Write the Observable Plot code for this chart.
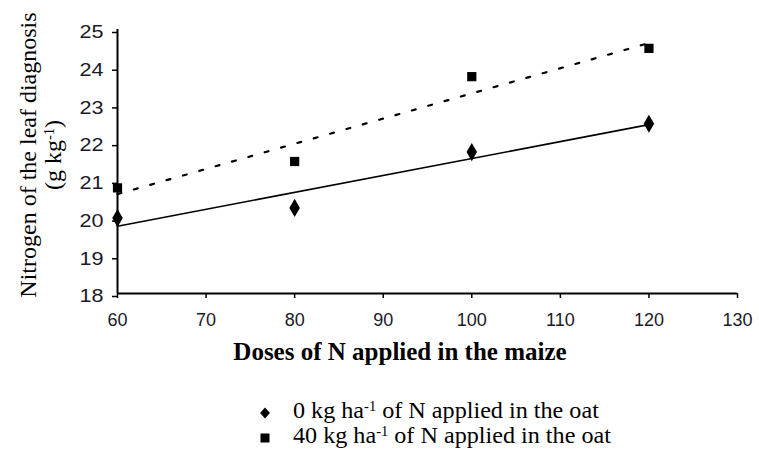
<!DOCTYPE html>
<html>
<head>
<meta charset="utf-8">
<script src="https://cdn.jsdelivr.net/npm/d3@7"></script>
<script src="https://cdn.jsdelivr.net/npm/@observablehq/plot@0.6"></script>
<style>
  html, body { margin: 0; padding: 0; background: #fff; }
  #wrap { position: relative; width: 759px; height: 449px; overflow: hidden; }
  #wrap svg { display: block; }
  .serif { font-family: "Liberation Serif", "Times New Roman", serif; color: #000; position: absolute; white-space: nowrap; }
  .sup { position: relative; top: -0.5em; font-size: 0.6em; }
  #ylab { left: 42px; top: 155px; font-size: 24px; transform: translate(-50%, -50%) rotate(-90deg); text-align: center; line-height: 25px; }
  #xlab { left: 400px; top: 338px; font-size: 25px; font-weight: bold; line-height: 28px; transform: translateX(-50%); }
  .leg { left: 258px; font-size: 23px; line-height: 24px; display: flex; align-items: center; }
  .leg .txt { display: inline-block; transform: scaleX(1.05); transform-origin: left center; }
  .leg svg { margin-right: 21px; }
</style>
</head>
<body>
<div id="wrap"></div>
<script>
const doses = [60, 80, 100, 120];
const n0 = [20.0, 20.27, 21.75, 22.5];
const n40 = [20.8, 21.5, 23.75, 24.5];
const xTicks = [60, 70, 80, 90, 100, 110, 120, 130];
const yTicks = [18, 19, 20, 21, 22, 23, 24, 25];
const seriesNames = ["0 kg ha-1 of N applied in the oat", "40 kg ha-1 of N applied in the oat"];

const d0 = doses.map((x, i) => ({x, y: n0[i]}));
const d40 = doses.map((x, i) => ({x, y: n40[i]}));

const tickFont = {fontFamily: "Liberation Sans, Arial, sans-serif", fontSize: 18};

const chart = Plot.plot({
  width: 759,
  height: 449,
  marginLeft: 117,
  marginRight: 22,
  marginTop: 29,
  marginBottom: 156,
  style: {background: "#fff", color: "#111", overflow: "visible"},
  x: {domain: [60, 130], ticks: xTicks, label: null},
  y: {domain: [18, 25], ticks: yTicks, label: null},
  marks: [
    Plot.axisY({ticks: yTicks, tickSize: 5, tickPadding: 9, tickFormat: d3.format("d"), label: null, ...tickFont, fill: "#1a1a2a", stroke: "#000", strokeWidth: 1.5, dy: 3}),
    Plot.axisX({ticks: xTicks, tickSize: 5, tickPadding: 15, tickFormat: d3.format("d"), label: null, ...tickFont, fill: "#1a1a2a", stroke: "#000", strokeWidth: 1.5}),
    Plot.ruleX([60], {stroke: "#000", strokeWidth: 2}),
    Plot.ruleY([18], {stroke: "#000", strokeWidth: 2}),
    Plot.linearRegressionY(d0, {x: "x", y: "y", ci: 0, stroke: "#000", strokeWidth: 1.6}),
    Plot.linearRegressionY(d40, {x: "x", y: "y", ci: 0, stroke: "#000", strokeWidth: 2.2, strokeDasharray: "4,13"}),
    Plot.dot(d0, {x: "x", y: "y", symbol: "diamond", r: 5.5, fill: "#000", stroke: "none"}),
    Plot.dot(d40, {x: "x", y: "y", symbol: "square", r: 5.2, fill: "#000", stroke: "none"})
  ]
});

// widen y tick labels horizontally to match the stretched look of the reference
chart.querySelectorAll('g[aria-label="y-axis tick label"] text').forEach(t => {
  const tr = t.getAttribute("transform");
  if (tr) {
    t.setAttribute("transform", tr + " scale(1.2,1)");
  } else {
    const x = t.getAttribute("x") || 0, y = t.getAttribute("y") || 0;
    t.removeAttribute("x"); t.removeAttribute("y");
    t.setAttribute("transform", `translate(${x},${y}) scale(1.2,1)`);
  }
});

const wrap = document.getElementById("wrap");
wrap.appendChild(chart);

const ylab = document.createElement("div");
ylab.className = "serif";
ylab.id = "ylab";
ylab.innerHTML = "Nitrogen of the leaf diagnosis<br>(g kg<span class='sup'>-1</span>)";
wrap.appendChild(ylab);

const xlab = document.createElement("div");
xlab.className = "serif";
xlab.id = "xlab";
xlab.textContent = "Doses of N applied in the maize";
wrap.appendChild(xlab);

const symbols = [
  '<svg width="14" height="14"><path d="M7,1.5 L12,7 L7,12.5 L2,7 Z" fill="#000"/></svg>',
  '<svg width="14" height="14"><rect x="2.5" y="2.5" width="9" height="9" fill="#000"/></svg>'
];
const legTops = [399, 424];
seriesNames.forEach((name, i) => {
  const el = document.createElement("div");
  el.className = "serif leg";
  el.style.top = legTops[i] + "px";
  const parts = name.split("ha-1");
  el.innerHTML = symbols[i] + "<span class='txt'>" + parts[0] + "ha<span class='sup'>-1</span>" + parts[1] + "</span>";
  wrap.appendChild(el);
});
</script>
</body>
</html>
